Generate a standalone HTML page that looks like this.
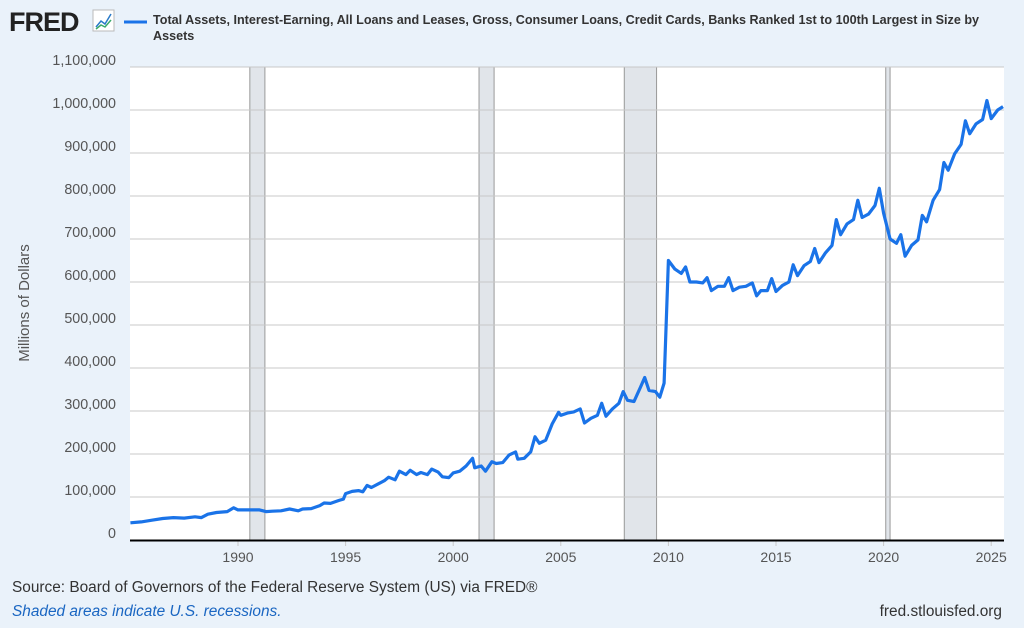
<!DOCTYPE html>
<html><head><meta charset="utf-8"><style>
body{margin:0;width:1024px;height:623px;background:#eaf2fa;font-family:"Liberation Sans",sans-serif;overflow:hidden}
</style></head><body>
<svg id="s" width="1024" height="623" xmlns="http://www.w3.org/2000/svg" font-family="Liberation Sans, sans-serif">
<text x="9" y="31" font-size="27" font-weight="bold" fill="#222" letter-spacing="-1">FRED</text>
<rect x="93" y="10" width="21" height="21" fill="#fff" stroke="#bbb"/>
<polyline points="96,27 101,21 105,24 111,14" fill="none" stroke="#2a7ac8" stroke-width="1.5"/>
<polyline points="96,29 101,25 105,27 111,20" fill="none" stroke="#3aaa6a" stroke-width="1.5"/>
<line x1="124" y1="22" x2="147" y2="22" stroke="#1a73e8" stroke-width="3"/>
<text x="153" y="24" font-size="12.6" font-weight="bold" fill="#333">Total Assets, Interest-Earning, All Loans and Leases, Gross, Consumer Loans, Credit Cards, Banks Ranked 1st to 100th Largest in Size by</text>
<text x="153" y="40" font-size="12.6" font-weight="bold" fill="#333">Assets</text>
<rect x="130" y="67" width="874" height="473" fill="#fff"/>
<g id="rec" fill="#e1e5ea" stroke="#999"></g>
<g id="grid" stroke="#c8c8c8" stroke-width="1"></g>
<g id="yl" font-size="14.3" fill="#555" text-anchor="end"></g>
<g id="xl" font-size="14" fill="#555" text-anchor="middle"></g>
<line x1="130" y1="540.5" x2="1004" y2="540.5" stroke="#000" stroke-width="2"/>
<polyline id="ln" fill="none" stroke="#1a73e8" stroke-width="3.2" stroke-linejoin="round"/>
<text transform="translate(29,303) rotate(-90)" font-size="15" fill="#555" text-anchor="middle">Millions of Dollars</text>
<text x="12" y="592" font-size="15.4" fill="#333">Source: Board of Governors of the Federal Reserve System (US) via FRED®</text>
<text x="12" y="616" font-size="15.4" fill="#1a66c2" font-style="italic">Shaded areas indicate U.S. recessions.</text>
<text x="1002" y="616" font-size="15.4" fill="#333" text-anchor="end">fred.stlouisfed.org</text>
</svg>
<script>
var NS="http://www.w3.org/2000/svg";
function X(y){return 238+(y-1990)*21.52}
function Y(v){return 540-v*0.43}
function el(p,t,a,txt){var e=document.createElementNS(NS,t);for(var k in a)e.setAttribute(k,a[k]);if(txt)e.textContent=txt;document.getElementById(p).appendChild(e);}
[[1990.55,1991.25],[2001.2,2001.9],[2007.95,2009.45],[2020.1,2020.3]].forEach(function(r){el("rec","rect",{x:X(r[0]),y:67,width:X(r[1])-X(r[0]),height:473});});
for(var i=1;i<=11;i++){var y=Y(i*100);el("grid","line",{x1:130,x2:1004,y1:y,y2:y});}
for(var i=0;i<=11;i++){el("yl","text",{x:116,y:Y(i*100)-2},(i*100000).toLocaleString("en-US"));}
for(var yr=1990;yr<=2025;yr+=5){el("xl","text",{x:X(yr),y:562},String(yr));el("grid","line",{x1:X(yr),x2:X(yr),y1:541,y2:546});}
var d=[1985,40,1985.5,42,1986,46,1986.5,50,1987,52,1987.5,51,1988,54,1988.3,52,1988.6,60,1989,64,1989.5,66,1989.8,75,1990,70,1991,70,1991.3,66,1991.6,67,1992,68,1992.4,72,1992.8,68,1993,72,1993.4,73,1993.8,80,1994,86,1994.3,85,1994.7,92,1994.9,95,1995,108,1995.3,113,1995.6,115,1995.8,112,1996,127,1996.2,122,1996.5,130,1996.8,138,1997,146,1997.3,140,1997.5,160,1997.8,152,1998,162,1998.3,152,1998.5,157,1998.8,152,1999,165,1999.3,158,1999.5,147,1999.8,145,2000,156,2000.3,160,2000.6,172,2000.9,190,2001,168,2001.3,172,2001.5,160,2001.8,182,2002,178,2002.3,180,2002.6,198,2002.9,205,2003,188,2003.3,190,2003.6,205,2003.8,240,2004,225,2004.3,232,2004.6,270,2004.9,297,2005,290,2005.3,295,2005.6,298,2005.9,305,2006.1,272,2006.4,283,2006.7,290,2006.9,318,2007.1,288,2007.4,305,2007.7,318,2007.9,345,2008.1,325,2008.4,322,2008.7,355,2008.9,378,2009.1,348,2009.4,345,2009.6,332,2009.8,365,2010,650,2010.3,630,2010.6,620,2010.8,635,2011,600,2011.3,600,2011.6,598,2011.8,610,2012,580,2012.3,590,2012.6,590,2012.8,610,2013,580,2013.3,588,2013.6,590,2013.9,598,2014.1,568,2014.3,580,2014.6,580,2014.8,608,2015,578,2015.3,592,2015.6,600,2015.8,640,2016,615,2016.3,638,2016.6,648,2016.8,678,2017,645,2017.3,668,2017.6,685,2017.8,745,2018,710,2018.3,735,2018.6,745,2018.8,790,2019,750,2019.3,758,2019.6,778,2019.8,818,2020,760,2020.3,700,2020.6,690,2020.8,710,2021,660,2021.3,685,2021.6,698,2021.8,755,2022,740,2022.3,790,2022.6,815,2022.8,878,2023,860,2023.3,898,2023.6,920,2023.8,975,2024,945,2024.3,968,2024.6,978,2024.8,1022,2025,980,2025.3,1000,2025.55,1008];
var p=[];for(var i=0;i<d.length;i+=2)p.push(X(d[i]).toFixed(1)+","+Y(d[i+1]).toFixed(1));
document.getElementById("ln").setAttribute("points",p.join(" "));
</script>
</body></html>
